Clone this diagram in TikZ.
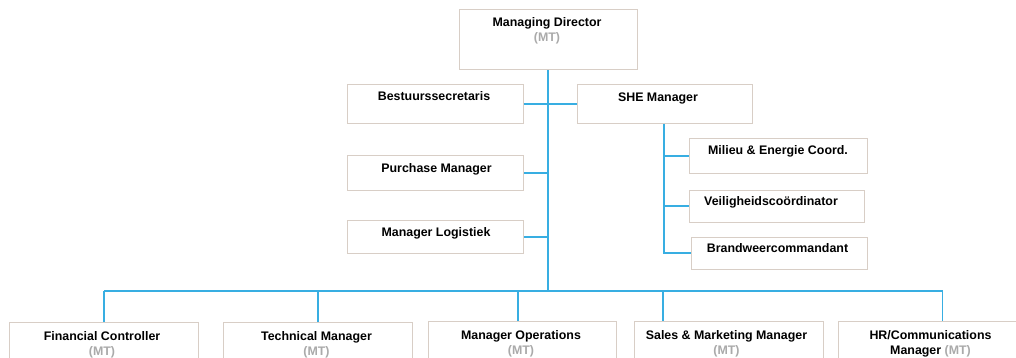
\documentclass[tikz,border=0pt]{standalone}
\usepackage{fontspec}
\setmainfont{Liberation Sans}
\definecolor{boxline}{RGB}{216,206,198}
\definecolor{linkblue}{RGB}{56,174,226}
\definecolor{mtgray}{RGB}{170,170,170}
\begin{document}
\begin{tikzpicture}[x=1pt,y=-1pt,
  box/.style={draw=boxline,line width=1pt,fill=white,rectangle,inner sep=0pt},
  lbl/.style={anchor=base,inner sep=0pt,font=\fontsize{12.4}{14}\selectfont\bfseries},
  mt/.style={lbl,text=mtgray},
  link/.style={draw=linkblue,line width=1.3pt}]
\useasboundingbox (0,0) rectangle (1016,358);
\clip (0,0) rectangle (1016,358);

% boxes
\node[box,minimum width=178pt,minimum height=60pt] (md) at (548,40) {};
\node[box,minimum width=176pt,minimum height=39pt] (bs) at (435,104) {};
\node[box,minimum width=175pt,minimum height=39pt] (she) at (664.5,104.5) {};
\node[box,minimum width=176pt,minimum height=34pt] (pm) at (435.5,173) {};
\node[box,minimum width=176pt,minimum height=33pt] (ml) at (435.5,237) {};
\node[box,minimum width=178pt,minimum height=35pt] (mi) at (778,156) {};
\node[box,minimum width=175pt,minimum height=32pt] (vc) at (777,206) {};
\node[box,minimum width=176pt,minimum height=32pt] (bw) at (779,253) {};
\node[box,minimum width=189pt,minimum height=50pt] (fc) at (103.5,347) {};
\node[box,minimum width=189pt,minimum height=50pt] (tm) at (317.5,347) {};
\node[box,minimum width=188pt,minimum height=52pt] (mo) at (522,347) {};
\node[box,minimum width=189pt,minimum height=52pt] (sm) at (728.5,347) {};
\node[box,minimum width=189pt,minimum height=52pt] (hr) at (932.5,347) {};

% labels
\node[lbl] (mdt) at (547,27) {Managing Director};
\node[mt] (mdm) at (547,42) {(MT)};
\node[lbl] (bst) at (434,101) {Bestuurssecretaris};
\node[lbl] (shet) at (658,102) {SHE Manager};
\node[lbl] (pmt) at (436.5,172) {Purchase Manager};
\node[lbl] (mlt) at (436,236) {Manager Logistiek};
\node[lbl] (mit) at (778,155) {Milieu \& Energie Coord.};
\node[lbl] (vct) at (771,205.5) {Veiligheidscoördinator};
\node[lbl] (bwt) at (777.5,252) {Brandweercommandant};
\node[lbl] (fct) at (102,340) {Financial Controller};
\node[mt] (fcm) at (102,355.5) {(MT)};
\node[lbl] (tmt) at (316.5,340) {Technical Manager};
\node[mt] (tmm) at (316.5,355.5) {(MT)};
\node[lbl] (mot) at (521,339) {Manager Operations};
\node[mt] (mom) at (521,354.5) {(MT)};
\node[lbl] (smt) at (726.5,339) {Sales \& Marketing Manager};
\node[mt] (smm) at (726.5,354.5) {(MT)};
\node[lbl] (hrt) at (930.5,339) {HR/Communications};
\node[lbl] (hrm) at (930.5,354.5) {Manager \textcolor{mtgray}{(MT)}};

% connectors
\coordinate (bus) at (548,291);
\coordinate (d1) at (104,291);
\coordinate (d2) at (318,291);
\coordinate (d3) at (518,291);
\coordinate (d4) at (663,291);
\coordinate (d5) at (942.5,291);
\coordinate (sv) at (664,124);
\draw[link] (md.south) -- (bus);
\draw[link] (bs.east) -- (bs.east -| she.west);
\draw[link] (pm.east) -- (pm.east -| md.south);
\draw[link] (ml.east) -- (ml.east -| md.south);
\draw[link] (sv) |- (bw.west);
\draw[link] (sv |- mi.west) -- (mi.west);
\draw[link] (sv |- vc.west) -- (vc.west);
\draw[link] (d1) -- (d5);
\draw[link] (d1) -- (d1 |- fc.north);
\draw[link] (d2) -- (d2 |- tm.north);
\draw[link] (d3) -- (d3 |- mo.north);
\draw[link] (d4) -- (d4 |- sm.north);
\draw[link] (d5) -- (d5 |- hr.north);
\end{tikzpicture}
\end{document}
